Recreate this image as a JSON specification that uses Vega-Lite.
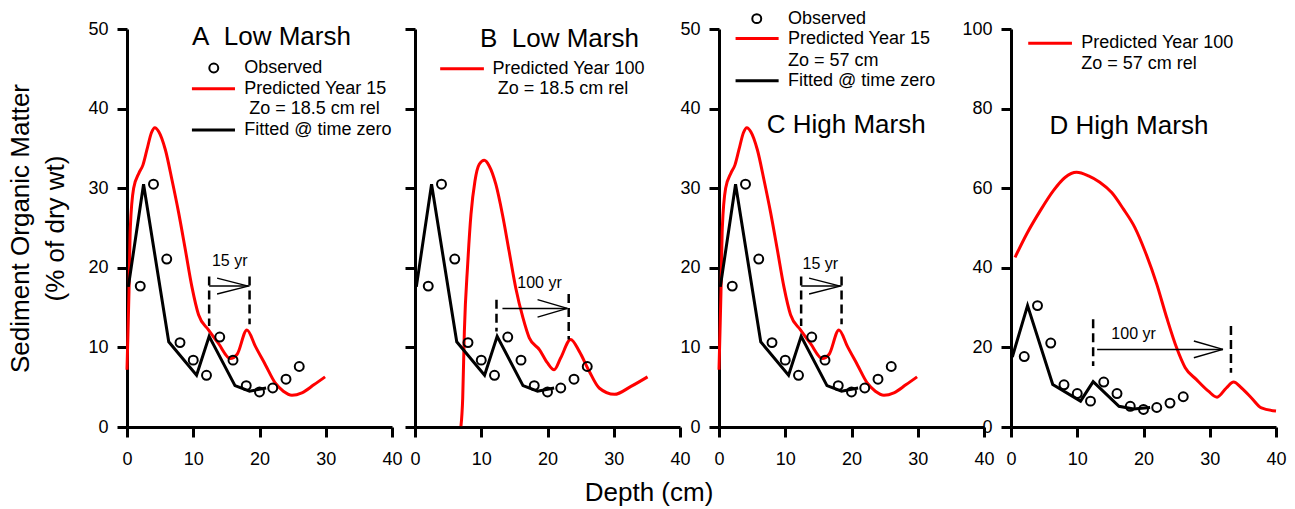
{
  "$schema": "https://vega.github.io/schema/vega-lite/v6.json",
  "padding": {"left": 7, "top": 9, "right": 5, "bottom": 5},
  "background": "white",
  "spacing": 23,
  "bounds": "flush",
  "title": {"text": "Depth (cm)", "orient": "bottom", "anchor": "middle", "fontSize": 26, "font": "Liberation Sans", "fontWeight": "normal", "color": "black", "offset": 12, "dx": 2},
  "config": {
    "view": {"stroke": null},
    "font": "Liberation Sans",
    "axis": {"domainColor": "black", "domainWidth": 3, "tickColor": "black", "tickWidth": 3, "tickSize": 10, "labelFont": "Liberation Sans", "labelFontSize": 18, "labelColor": "black", "grid": false, "titleFont": "Liberation Sans", "titleFontWeight": "normal", "titleColor": "black", "labelOverlap": false, "labelFlush": false},
    "axisX": {"labelPadding": 13},
    "axisY": {"labelPadding": 9},
    "text": {"font": "Liberation Sans", "color": "black"}
  },
  "datasets": {
    "obs": [{"x": 2, "y": 17.7}, {"x": 4, "y": 30.5}, {"x": 6, "y": 21.1}, {"x": 8, "y": 10.6}, {"x": 10, "y": 8.4}, {"x": 12, "y": 6.5}, {"x": 14, "y": 11.3}, {"x": 16, "y": 8.4}, {"x": 18, "y": 5.2}, {"x": 20, "y": 4.4}, {"x": 22, "y": 4.9}, {"x": 24, "y": 6.0}, {"x": 26, "y": 7.6}],
    "fit": [{"x": 0.2, "y": 17.6}, {"x": 2.5, "y": 30.5}, {"x": 6.3, "y": 10.7}, {"x": 10.5, "y": 6.5}, {"x": 12.4, "y": 11.4}, {"x": 16.3, "y": 5.2}, {"x": 18.5, "y": 4.5}, {"x": 21, "y": 4.9}],
    "pred15": [{"x": 0, "y": 7.2}, {"x": 0.15, "y": 12}, {"x": 0.3, "y": 17}, {"x": 0.5, "y": 25}, {"x": 1.0, "y": 30.0}, {"x": 1.8, "y": 31.9}, {"x": 2.4, "y": 32.9}, {"x": 3.0, "y": 34.8}, {"x": 3.7, "y": 37.0}, {"x": 4.2, "y": 37.6}, {"x": 4.8, "y": 37.1}, {"x": 5.8, "y": 34.8}, {"x": 6.8, "y": 31.0}, {"x": 7.8, "y": 26.9}, {"x": 8.8, "y": 22.3}, {"x": 9.8, "y": 17.6}, {"x": 10.8, "y": 14.1}, {"x": 12.3, "y": 12.2}, {"x": 13.8, "y": 10.5}, {"x": 15.6, "y": 8.6}, {"x": 16.6, "y": 9.1}, {"x": 18.1, "y": 12.2}, {"x": 19.4, "y": 10.1}, {"x": 20.9, "y": 7.8}, {"x": 22.4, "y": 5.5}, {"x": 23.6, "y": 4.5}, {"x": 24.9, "y": 4.0}, {"x": 26.4, "y": 4.3}, {"x": 28.2, "y": 5.3}, {"x": 29.9, "y": 6.3}],
    "predB": [{"x": 6.94, "y": 0.1}, {"x": 7.2, "y": 3.6}, {"x": 7.45, "y": 12.0}, {"x": 7.95, "y": 20.4}, {"x": 8.45, "y": 26.7}, {"x": 9.05, "y": 30.9}, {"x": 9.7, "y": 33.0}, {"x": 10.46, "y": 33.5}, {"x": 11.2, "y": 32.8}, {"x": 12.2, "y": 30.5}, {"x": 13.2, "y": 26.7}, {"x": 14.2, "y": 22.1}, {"x": 15.2, "y": 17.5}, {"x": 16.3, "y": 13.7}, {"x": 17.25, "y": 11.2}, {"x": 18.8, "y": 9.7}, {"x": 20.0, "y": 8.05}, {"x": 21.0, "y": 7.2}, {"x": 22.0, "y": 8.7}, {"x": 23.5, "y": 11.0}, {"x": 24.8, "y": 9.5}, {"x": 26.3, "y": 7.0}, {"x": 27.8, "y": 4.9}, {"x": 30.1, "y": 4.1}, {"x": 32.6, "y": 5.1}, {"x": 35.1, "y": 6.3}],
    "predD": [{"x": 0.6, "y": 42.6}, {"x": 2.37, "y": 48.5}, {"x": 4.4, "y": 54.3}, {"x": 6.4, "y": 59.4}, {"x": 8.15, "y": 62.7}, {"x": 9.9, "y": 64.0}, {"x": 11.7, "y": 63.1}, {"x": 13.4, "y": 61.5}, {"x": 15.2, "y": 58.9}, {"x": 16.95, "y": 54.8}, {"x": 18.7, "y": 50.1}, {"x": 20.2, "y": 44.3}, {"x": 22.0, "y": 35.9}, {"x": 23.5, "y": 27.5}, {"x": 25.0, "y": 19.9}, {"x": 26.3, "y": 14.9}, {"x": 28.0, "y": 11.9}, {"x": 29.8, "y": 9.0}, {"x": 31.1, "y": 7.5}, {"x": 32.5, "y": 9.8}, {"x": 33.6, "y": 11.3}, {"x": 34.8, "y": 9.8}, {"x": 36.3, "y": 7.3}, {"x": 37.8, "y": 4.8}, {"x": 40, "y": 4.0}],
    "dash15": [{"x": 12.4, "y": 18.9, "y2": 12.7}, {"x": 18.5, "y": 18.9, "y2": 12.9}],
    "seg15": [{"x": 12.4, "x2": 18.5, "y": 17.7, "y2": 17.7}, {"x": 13.6, "x2": 18.3, "y": 18.7, "y2": 17.7}, {"x": 13.6, "x2": 18.3, "y": 16.7, "y2": 17.7}],
    "dashB": [{"x": 12.3, "y": 16.0, "y2": 12.0}, {"x": 23.2, "y": 16.7, "y2": 11.0}],
    "segB": [{"x": 13.2, "x2": 23.0, "y": 14.9, "y2": 14.9}, {"x": 18.5, "x2": 23.0, "y": 16.0, "y2": 14.9}, {"x": 18.5, "x2": 23.0, "y": 13.8, "y2": 14.9}],
    "dashD": [{"x": 12.4, "y": 27.1, "y2": 15.3}, {"x": 33.2, "y": 25.4, "y2": 13.6}],
    "segD": [{"x": 13.0, "x2": 32.0, "y": 19.5, "y2": 19.5}, {"x": 27.6, "x2": 32.0, "y": 21.6, "y2": 19.5}, {"x": 27.6, "x2": 32.0, "y": 17.4, "y2": 19.5}],
    "txtA": [{"x": 17.7, "y": 45.1, "label": "Observed"}, {"x": 17.7, "y": 42.5, "label": "Predicted Year 15"}, {"x": 18.45, "y": 39.9, "label": "Zo = 18.5 cm rel"}, {"x": 17.7, "y": 37.3, "label": "Fitted @ time zero"}],
    "txtB": [{"x": 11.7, "y": 45.0, "label": "Predicted Year 100"}, {"x": 12.5, "y": 42.4, "label": "Zo = 18.5 cm rel"}],
    "txtC": [{"x": 10.4, "y": 51.3, "label": "Observed"}, {"x": 10.4, "y": 48.8, "label": "Predicted Year 15"}, {"x": 10.4, "y": 46.0, "label": "Zo = 57 cm"}, {"x": 10.4, "y": 43.5, "label": "Fitted @ time zero"}],
    "txtD": [{"x": 10.6, "y": 96.4, "label": "Predicted Year 100"}, {"x": 10.6, "y": 91.3, "label": "Zo = 57 cm rel"}]
  },
  "hconcat": [
    {
      "width": 265, "height": 398,
      "encoding": {
        "x": {"field": "x", "type": "quantitative", "scale": {"domain": [0, 40], "nice": false}, "axis": {"values": [0, 10, 20, 30, 40], "title": null}},
        "y": {"field": "y", "type": "quantitative", "scale": {"domain": [0, 50], "nice": false}, "axis": {"values": [0, 10, 20, 30, 40, 50], "title": ["Sediment Organic Matter", "(% of dry wt)"], "titleFontSize": 26, "titleLineHeight": 35, "titlePadding": 19}}
      },
      "layer": [
        {"data": {"name": "pred15"}, "mark": {"type": "line", "color": "#ff0000", "strokeWidth": 3, "interpolate": "monotone"}},
        {"data": {"name": "fit"}, "mark": {"type": "line", "color": "black", "strokeWidth": 3}},
        {"data": {"name": "obs"}, "mark": {"type": "point", "shape": "circle", "filled": false, "stroke": "black", "strokeWidth": 2, "size": 80, "opacity": 1}},
        {"data": {"name": "dash15"}, "mark": {"type": "rule", "color": "black", "strokeWidth": 2.5, "strokeDash": [9, 5]}, "encoding": {"y2": {"field": "y2"}}},
        {"data": {"name": "seg15"}, "mark": {"type": "rule", "color": "black", "strokeWidth": 1.5}, "encoding": {"x2": {"field": "x2"}, "y2": {"field": "y2"}}},
        {"data": {"values": [{"x": 15.5, "y": 20.8, "label": "15 yr"}]}, "mark": {"type": "text", "fontSize": 16, "align": "center", "baseline": "middle"}, "encoding": {"text": {"field": "label"}}},
        {"data": {"values": [{"x": 13.1, "y": 45.1}]}, "mark": {"type": "point", "shape": "circle", "filled": false, "stroke": "black", "strokeWidth": 2, "size": 80, "opacity": 1}},
        {"data": {"values": [{"x": 9.8, "x2": 16.3, "y": 42.5}]}, "mark": {"type": "rule", "color": "#ff0000", "strokeWidth": 3}, "encoding": {"x2": {"field": "x2"}}},
        {"data": {"values": [{"x": 9.8, "x2": 16.3, "y": 37.3}]}, "mark": {"type": "rule", "color": "black", "strokeWidth": 3}, "encoding": {"x2": {"field": "x2"}}},
        {"data": {"name": "txtA"}, "mark": {"type": "text", "fontSize": 18, "align": "left", "baseline": "middle"}, "encoding": {"text": {"field": "label"}}},
        {"data": {"values": [{"x": 9.8, "y": 49.0, "label": "A\u00a0\u00a0Low Marsh"}]}, "mark": {"type": "text", "fontSize": 26, "align": "left", "baseline": "middle"}, "encoding": {"text": {"field": "label"}}}
      ]
    },
    {
      "spacing": 39,
      "bounds": "flush",
      "hconcat": [
        {
          "width": 265, "height": 398,
          "encoding": {
            "x": {"field": "x", "type": "quantitative", "scale": {"domain": [0, 40], "nice": false}, "axis": {"values": [0, 10, 20, 30, 40], "title": null}},
            "y": {"field": "y", "type": "quantitative", "scale": {"domain": [0, 50], "nice": false}, "axis": {"values": [0, 10, 20, 30, 40, 50], "title": null, "labels": false}}
          },
          "layer": [
            {"data": {"name": "predB"}, "mark": {"type": "line", "color": "#ff0000", "strokeWidth": 3, "interpolate": "monotone"}},
            {"data": {"name": "fit"}, "mark": {"type": "line", "color": "black", "strokeWidth": 3}},
            {"data": {"name": "obs"}, "mark": {"type": "point", "shape": "circle", "filled": false, "stroke": "black", "strokeWidth": 2, "size": 80, "opacity": 1}},
            {"data": {"name": "dashB"}, "mark": {"type": "rule", "color": "black", "strokeWidth": 2.5, "strokeDash": [9, 5]}, "encoding": {"y2": {"field": "y2"}}},
            {"data": {"name": "segB"}, "mark": {"type": "rule", "color": "black", "strokeWidth": 1.5}, "encoding": {"x2": {"field": "x2"}, "y2": {"field": "y2"}}},
            {"data": {"values": [{"x": 18.8, "y": 18.1, "label": "100 yr"}]}, "mark": {"type": "text", "fontSize": 16, "align": "center", "baseline": "middle"}, "encoding": {"text": {"field": "label"}}},
            {"data": {"values": [{"x": 3.8, "x2": 10.4, "y": 45.0}]}, "mark": {"type": "rule", "color": "#ff0000", "strokeWidth": 3}, "encoding": {"x2": {"field": "x2"}}},
            {"data": {"name": "txtB"}, "mark": {"type": "text", "fontSize": 18, "align": "left", "baseline": "middle"}, "encoding": {"text": {"field": "label"}}},
            {"data": {"values": [{"x": 9.8, "y": 48.7, "label": "B\u00a0\u00a0Low Marsh"}]}, "mark": {"type": "text", "fontSize": 26, "align": "left", "baseline": "middle"}, "encoding": {"text": {"field": "label"}}}
          ]
        },
        {
          "spacing": 27,
          "bounds": "flush",
          "hconcat": [
            {
              "width": 265, "height": 398,
              "encoding": {
                "x": {"field": "x", "type": "quantitative", "scale": {"domain": [0, 40], "nice": false}, "axis": {"values": [0, 10, 20, 30, 40], "title": null}},
                "y": {"field": "y", "type": "quantitative", "scale": {"domain": [0, 50], "nice": false}, "axis": {"values": [0, 10, 20, 30, 40, 50], "title": null}}
              },
              "layer": [
                {"data": {"name": "pred15"}, "mark": {"type": "line", "color": "#ff0000", "strokeWidth": 3, "interpolate": "monotone"}},
                {"data": {"name": "fit"}, "mark": {"type": "line", "color": "black", "strokeWidth": 3}},
                {"data": {"name": "obs"}, "mark": {"type": "point", "shape": "circle", "filled": false, "stroke": "black", "strokeWidth": 2, "size": 80, "opacity": 1}},
                {"data": {"name": "dash15"}, "mark": {"type": "rule", "color": "black", "strokeWidth": 2.5, "strokeDash": [9, 5]}, "encoding": {"y2": {"field": "y2"}}},
                {"data": {"name": "seg15"}, "mark": {"type": "rule", "color": "black", "strokeWidth": 1.5}, "encoding": {"x2": {"field": "x2"}, "y2": {"field": "y2"}}},
                {"data": {"values": [{"x": 15.3, "y": 20.5, "label": "15 yr"}]}, "mark": {"type": "text", "fontSize": 16, "align": "center", "baseline": "middle"}, "encoding": {"text": {"field": "label"}}},
                {"data": {"values": [{"x": 5.7, "y": 51.3}]}, "mark": {"type": "point", "shape": "circle", "filled": false, "stroke": "black", "strokeWidth": 2, "size": 80, "opacity": 1}},
                {"data": {"values": [{"x": 2.5, "x2": 9.0, "y": 48.8}]}, "mark": {"type": "rule", "color": "#ff0000", "strokeWidth": 3}, "encoding": {"x2": {"field": "x2"}}},
                {"data": {"values": [{"x": 2.5, "x2": 9.0, "y": 43.5}]}, "mark": {"type": "rule", "color": "black", "strokeWidth": 3}, "encoding": {"x2": {"field": "x2"}}},
                {"data": {"name": "txtC"}, "mark": {"type": "text", "fontSize": 18, "align": "left", "baseline": "middle"}, "encoding": {"text": {"field": "label"}}},
                {"data": {"values": [{"x": 7.2, "y": 38.0, "label": "C High Marsh"}]}, "mark": {"type": "text", "fontSize": 26, "align": "left", "baseline": "middle"}, "encoding": {"text": {"field": "label"}}}
              ]
            },
            {
              "width": 265, "height": 398,
              "encoding": {
                "x": {"field": "x", "type": "quantitative", "scale": {"domain": [0, 40], "nice": false}, "axis": {"values": [0, 10, 20, 30, 40], "title": null}},
                "y": {"field": "y", "type": "quantitative", "scale": {"domain": [0, 100], "nice": false}, "axis": {"values": [0, 20, 40, 60, 80, 100], "title": null}}
              },
              "layer": [
                {"data": {"name": "predD"}, "mark": {"type": "line", "color": "#ff0000", "strokeWidth": 3, "interpolate": "monotone"}},
                {"data": {"name": "fit"}, "mark": {"type": "line", "color": "black", "strokeWidth": 3}},
                {"data": {"name": "obs"}, "mark": {"type": "point", "shape": "circle", "filled": false, "stroke": "black", "strokeWidth": 2, "size": 80, "opacity": 1}},
                {"data": {"name": "dashD"}, "mark": {"type": "rule", "color": "black", "strokeWidth": 2.5, "strokeDash": [9, 5]}, "encoding": {"y2": {"field": "y2"}}},
                {"data": {"name": "segD"}, "mark": {"type": "rule", "color": "black", "strokeWidth": 1.5}, "encoding": {"x2": {"field": "x2"}, "y2": {"field": "y2"}}},
                {"data": {"values": [{"x": 18.5, "y": 23.4, "label": "100 yr"}]}, "mark": {"type": "text", "fontSize": 16, "align": "center", "baseline": "middle"}, "encoding": {"text": {"field": "label"}}},
                {"data": {"values": [{"x": 2.6, "x2": 9.2, "y": 96.4}]}, "mark": {"type": "rule", "color": "#ff0000", "strokeWidth": 3}, "encoding": {"x2": {"field": "x2"}}},
                {"data": {"name": "txtD"}, "mark": {"type": "text", "fontSize": 18, "align": "left", "baseline": "middle"}, "encoding": {"text": {"field": "label"}}},
                {"data": {"values": [{"x": 5.8, "y": 75.7, "label": "D High Marsh"}]}, "mark": {"type": "text", "fontSize": 26, "align": "left", "baseline": "middle"}, "encoding": {"text": {"field": "label"}}}
              ]
            }
          ]
        }
      ]
    }
  ]
}
